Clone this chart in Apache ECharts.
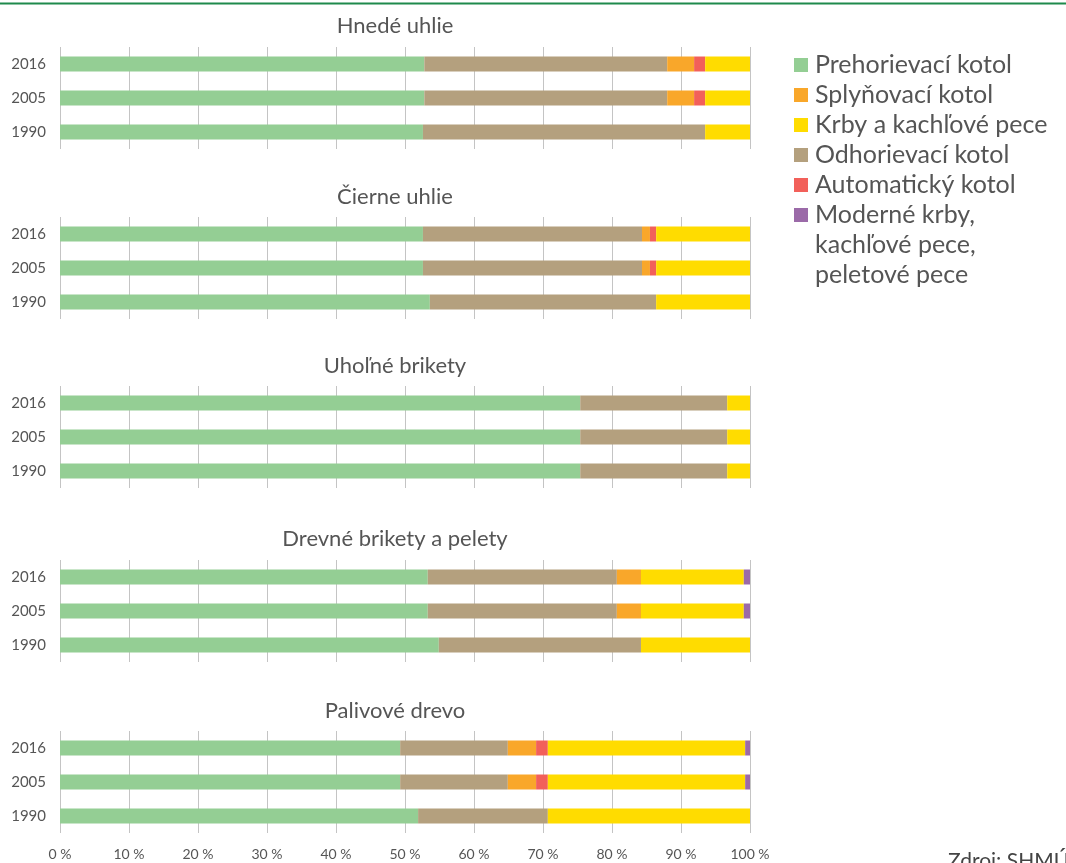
<!DOCTYPE html>
<html>
<head>
<meta charset="utf-8">
<script src="https://cdn.jsdelivr.net/npm/echarts@6/dist/echarts.min.js"></script>
<style>
  html, body { margin: 0; padding: 0; background: #fff; }
  #chart { width: 1066px; height: 863px; }
</style>
</head>
<body>
<div id="chart"></div>
<script>
// Share of heating appliance types by fuel, years 1990 / 2005 / 2016 (in %)
const years = ['1990', '2005', '2016'];
const fuels = ['Hnedé uhlie', 'Čierne uhlie', 'Uhoľné brikety', 'Drevné brikety a pelety', 'Palivové drevo'];
const xTicks = [0, 10, 20, 30, 40, 50, 60, 70, 80, 90, 100];

// each row: one fuel, values for [1990, 2005, 2016]
const prehorievaci = [[52.6, 52.8, 52.8], [53.6, 52.6, 52.6], [75.4, 75.4, 75.4], [54.9, 53.3, 53.3], [51.9, 49.3, 49.3]];
const odhorievaci  = [[40.9, 35.2, 35.2], [32.8, 31.75, 31.75], [21.3, 21.3, 21.3], [29.3, 27.4, 27.4], [18.8, 15.6, 15.6]];
const splynovaci   = [[0, 3.9, 3.9], [0, 1.15, 1.15], [0, 0, 0], [0, 3.5, 3.5], [0, 4.1, 4.1]];
const automaticky  = [[0, 1.6, 1.6], [0, 0.9, 0.9], [0, 0, 0], [0, 0, 0], [0, 1.7, 1.7]];
const krby         = [[6.5, 6.5, 6.5], [13.6, 13.6, 13.6], [3.3, 3.3, 3.3], [15.8, 14.9, 14.9], [29.3, 28.6, 28.6]];
const moderne      = [[0, 0, 0], [0, 0, 0], [0, 0, 0], [0, 0.9, 0.9], [0, 0.7, 0.7]];

const seriesDefs = [
  { name: 'Prehorievací kotol', data: prehorievaci, color: '#94ce94' },
  { name: 'Odhorievací kotol', data: odhorievaci, color: '#b4a07e' },
  { name: 'Splyňovací kotol', data: splynovaci, color: '#f9a72a' },
  { name: 'Automatický kotol', data: automaticky, color: '#f2605a' },
  { name: 'Krby a kachľové pece', data: krby, color: '#ffdc00' },
  { name: 'Moderné krby,', data: moderne, color: '#9b6aa8' }
];
const legendOrder = ['Prehorievací kotol', 'Splyňovací kotol', 'Krby a kachľové pece',
  'Odhorievací kotol', 'Automatický kotol', 'Moderné krby,'];

const FONT = 'Lato';
const gridTops = [47, 217, 386, 560, 731];
const titleCenters = [24, 195, 364, 537, 709];

const grids = [], xAxes = [], yAxes = [], series = [], titles = [];
fuels.forEach((fuel, g) => {
  grids.push({ left: 60, width: 690, top: gridTops[g], height: 102 });
  titles.push({
    text: fuel, left: 390, top: titleCenters[g] - 14, textAlign: 'center',
    textStyle: { fontFamily: FONT, fontSize: 22, fontWeight: 'normal', color: '#555' }
  });
  xAxes.push({
    type: 'value', gridIndex: g, min: 0, max: 100, interval: 10,
    axisLine: { show: false }, axisTick: { show: false },
    splitLine: { show: true, lineStyle: { color: '#c4c4c4', width: 1 } },
    axisLabel: {
      show: g === fuels.length - 1, formatter: '{value} %', margin: 14,
      fontFamily: FONT, fontSize: 14, color: '#555'
    }
  });
  yAxes.push({
    type: 'category', gridIndex: g, data: years,
    axisLine: { show: false }, axisTick: { show: false },
    axisLabel: { margin: 14, fontFamily: FONT, fontSize: 15, color: '#555' }
  });
  seriesDefs.forEach(s => {
    series.push({
      type: 'bar', name: s.name, xAxisIndex: g, yAxisIndex: g, stack: 'fuel' + g,
      barWidth: 15, itemStyle: { color: s.color }, data: s.data[g],
      emphasis: { disabled: true }, animation: false
    });
  });
});

const chart = echarts.init(document.getElementById('chart'), null, { renderer: 'canvas' });
chart.setOption({
  animation: false,
  title: titles,
  grid: grids,
  xAxis: xAxes,
  yAxis: yAxes,
  series: series,
  legend: {
    data: legendOrder, orient: 'vertical', left: 789, top: 45,
    icon: 'rect', itemWidth: 14, itemHeight: 14, itemGap: 0,
    selectedMode: false,
    textStyle: { fontFamily: FONT, fontSize: 25, color: '#555', lineHeight: 30, padding: [0, 0, 0, 2] }
  },
  graphic: [
    { type: 'line', shape: { x1: 0, y1: 3.5, x2: 1066, y2: 3.5 }, style: { stroke: '#1f8a4c', lineWidth: 2 }, silent: true },
    { type: 'text', x: 815, y: 245, style: { text: 'kachľové pece,', font: '25px Lato', fill: '#555', verticalAlign: 'middle' }, silent: true },
    { type: 'text', x: 815, y: 275, style: { text: 'peletové pece', font: '25px Lato', fill: '#555', verticalAlign: 'middle' }, silent: true },
    { type: 'text', x: 948, y: 851, style: { text: 'Zdroj: SHMÚ', font: '21px Lato', fill: '#444', verticalAlign: 'top' }, silent: true }
  ]
});
</script>
</body>
</html>
